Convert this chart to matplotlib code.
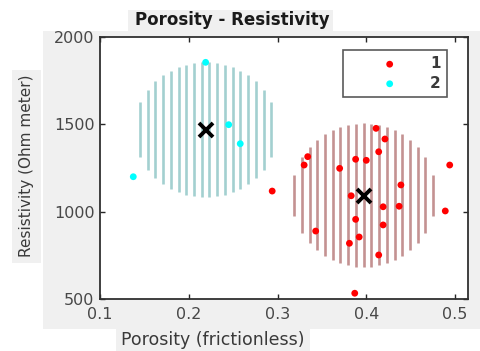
import numpy as np
import matplotlib
matplotlib.use("Agg")
import matplotlib.pyplot as plt
from matplotlib.patches import Rectangle

plt.rcParams['font.family'] = ['DejaVu Sans']

# ---- data ----
c1_x = [0.411, 0.421, 0.334, 0.330, 0.414, 0.388, 0.400, 0.370, 0.494, 0.294, 0.439,
        0.383, 0.419, 0.437, 0.489, 0.388, 0.419, 0.343, 0.392, 0.381, 0.414, 0.387]
c1_y = [1477, 1416, 1315, 1267, 1343, 1300, 1294, 1248, 1267, 1118, 1153,
        1091, 1028, 1031, 1004, 956, 924, 889, 855, 819, 752, 533]
c2_x = [0.219, 0.245, 0.258, 0.1375]
c2_y = [1855, 1498, 1389, 1200]

cent_x = [0.3975, 0.219]
cent_y = [1090, 1468]
circ_cx = [0.397, 0.219]
circ_cy = [1095, 1470]
circ_rx = [0.0817, 0.081]
circ_ry = [412, 386]

labels = ['1', '2']
xticks = [0.1, 0.2, 0.3, 0.4, 0.5]
yticks = [500, 1000, 1500, 2000]

# ---- figure ----
W, H = 480, 351
fig = plt.figure(figsize=(4.8, 3.51), dpi=100)
fig.patch.set_facecolor('white')

def frect(x0, y0, x1, y1, color='#f0f0f0'):
    fig.patches.append(Rectangle((x0 / W, 1 - y1 / H), (x1 - x0) / W, (y1 - y0) / H,
                                 transform=fig.transFigure, facecolor=color,
                                 edgecolor='none', zorder=-5))

frect(43, 31, 480, 329)      # main gray panel
frect(128, 10, 333, 31)      # title box
frect(12, 70, 41, 263)       # ylabel box
frect(116, 329, 310, 351)    # xlabel box

ax = fig.add_axes([100 / W, 1 - 299 / H, 368 / W, 262 / H])
ax.set_facecolor('white')
ax.set_xlim(0.1, 0.5146)
ax.set_ylim(500, 2000)

# hatched circles (vertical lines)
line_cols = ['#c49292', '#a3d0d0']
phases = [0.0, 0.5]
dx = 0.0087
for k in range(2):
    cx, cy, rx, ry = circ_cx[k], circ_cy[k], circ_rx[k], circ_ry[k]
    n = int(rx / dx) + 2
    xs = cx + dx * (np.arange(-n, n + 1) + phases[k])
    xs = xs[np.abs(xs - cx) < rx]
    hh = ry * np.sqrt(1 - ((xs - cx) / rx) ** 2)
    ax.vlines(xs, cy - hh, cy + hh, colors=line_cols[k], linewidth=1.9, zorder=1)

ax.scatter(c1_x, c1_y, s=24, color='#ff0000', edgecolors='none', zorder=3, label=labels[0])
ax.scatter(c2_x, c2_y, s=24, color='#00ffff', edgecolors='none', zorder=3, label=labels[1])
ax.plot(cent_x, cent_y, 'x', color='black', markersize=9.5, markeredgewidth=2.8, zorder=4)

ax.set_xticks(xticks)
ax.set_xticklabels([f'{v:.1f}' for v in xticks])
ax.set_yticks(yticks)
ax.tick_params(direction='in', length=3.5, width=1.0, top=True, right=True,
               labelsize=11.5, colors='#262626', labelcolor='#484848')
ax.tick_params(axis='x', pad=6)
ax.tick_params(axis='y', pad=4)
for s in ax.spines.values():
    s.set_linewidth(1.3)
    s.set_color('#303030')

leg = ax.legend(loc='upper right', bbox_to_anchor=(0.943, 0.95), borderaxespad=0,
                frameon=True, fancybox=False, edgecolor='#303030',
                handletextpad=0.0, handlelength=5.3, borderpad=0.4, labelspacing=0.3,
                markerscale=1.0, prop={'weight': 'bold', 'size': 11})
leg.get_frame().set_linewidth(1.2)
for t in leg.get_texts():
    t.set_color('#3a3a3a')

fig.text(232 / W, 1 - 20 / H, 'Porosity - Resistivity', ha='center', va='center',
         fontsize=12, fontweight='bold', color='#1a1a1a')
fig.text(213 / W, 1 - 340 / H, 'Porosity (frictionless)', ha='center', va='center',
         fontsize=12.5, color='#3a3a3a')
fig.text(27 / W, 1 - 166 / H, 'Resistivity (Ohm meter)', ha='center', va='center',
         rotation=90, fontsize=11, color='#3a3a3a')

fig.savefig('out.png', dpi=100)
